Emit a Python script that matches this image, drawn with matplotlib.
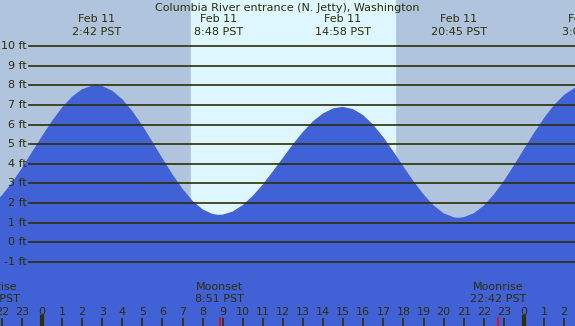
import matplotlib
matplotlib.use('Agg')
from matplotlib import pyplot as plt
from matplotlib import transforms

# Tide height readings (hours from midnight Feb 11, feet)
hours = [-3.5, -3, -2.5, -2, -1.5, -1, -0.5, 0, 0.5, 1, 1.5, 2, 2.5, 2.7,
         3, 3.5, 4, 4.5, 5, 5.5, 6, 6.5, 7, 7.5, 8, 8.5, 8.8,
         9, 9.5, 10, 10.5, 11, 11.5, 12, 12.5, 13, 13.5, 14, 14.5, 14.97,
         15.5, 16, 16.5, 17, 17.5, 18, 18.5, 19, 19.5, 20, 20.5, 20.75,
         21, 21.5, 22, 22.5, 23, 23.5, 24, 24.5, 25, 25.5, 26, 26.5, 27.1]
heights = [1.5, 1.6, 1.91, 2.39, 3.03, 3.78, 4.59, 5.4, 6.18, 6.87, 7.42, 7.8, 7.98, 8.0,
           7.96, 7.72, 7.29, 6.68, 5.94, 5.12, 4.27, 3.46, 2.72, 2.11, 1.68, 1.44, 1.4,
           1.41, 1.57, 1.9, 2.37, 2.95, 3.62, 4.31, 5.0, 5.63, 6.17, 6.57, 6.82, 6.9,
           6.78, 6.47, 5.98, 5.35, 4.62, 3.86, 3.11, 2.44, 1.88, 1.48, 1.28, 1.25,
           1.28, 1.48, 1.87, 2.44, 3.13, 3.92, 4.75, 5.57, 6.33, 7.0, 7.51, 7.85, 8.0]

# High / low tide labels
event_hours = [2.7, 8.8, 14.97, 20.75, 27.1]
event_days = ['Feb 11', 'Feb 11', 'Feb 11', 'Feb 11', 'Feb 12']
event_times = ['2:42 PST', '8:48 PST', '14:58 PST', '20:45 PST', '3:06 PST']

# Moon events
moon_hours = [-2.5, 8.85, 22.7]
moon_names = ['Moonrise', 'Moonset', 'Moonrise']
moon_times = ['21:30 PST', '8:51 PST', '22:42 PST']

sunrise, sunset = 7.42, 17.58
ft_levels = list(range(-1, 11))
hour_ticks = list(range(-2, 27))

W, H = 575, 326
night = '#b0c4de'
day = '#ddf6ff'
water = '#4161d7'
ink = '#2e2e06'

fig = plt.figure(figsize=(W / 100, H / 100), dpi=100)
ax = fig.add_axes([0, 0, 1, 1])
ax.set_xlim(-2.09, 26.54)
ax.set_ylim(-4.26, 12.34)
ax.axis('off')
fig.patch.set_facecolor(night)
ax.set_facecolor(night)

ax.axvspan(sunrise, sunset, color=day, zorder=0)
ax.fill_between(hours, -5, heights, color=water, lw=0, zorder=1)

# Horizontal foot lines and labels
ytr = transforms.blended_transform_factory(ax.transAxes, ax.transData)
for lv in ft_levels:
    ax.axhline(lv, xmin=29 / W, xmax=1, color=ink, lw=1.2, zorder=2)
    ax.text(27 / W, lv, f'{lv} ft', transform=ytr,
            ha='right', va='center', fontsize=8, color=ink)

tr = transforms.blended_transform_factory(ax.transData, ax.transAxes)


def yf(px):
    return 1 - px / H


ax.text(0.5, yf(8), 'Columbia River entrance (N. Jetty), Washington', transform=ax.transAxes,
        ha='center', va='center', fontsize=8, color=ink)

for h, d, t in zip(event_hours, event_days, event_times):
    ax.text(h, yf(19), d, transform=tr, ha='center', va='center', fontsize=8, color=ink)
    ax.text(h, yf(32), t, transform=tr, ha='center', va='center', fontsize=8, color=ink)

for h, n, t in zip(moon_hours, moon_names, moon_times):
    ax.text(h, yf(287), n, transform=tr, ha='center', va='center', fontsize=8, color=ink)
    ax.text(h, yf(299), t, transform=tr, ha='center', va='center', fontsize=8, color=ink)
    ax.plot([h, h], [0, yf(318)], transform=tr, color='red', lw=1.2, zorder=3)

# Hour ticks along the bottom
for h in hour_ticks:
    ax.text(h, yf(312), str(h % 24), transform=tr, ha='center', va='center', fontsize=8, color=ink)
    lw = 3 if h % 24 == 0 else 1.2
    top = yf(315) if h % 24 == 0 else yf(318)
    ax.plot([h, h], [0, top], transform=tr, color=ink, lw=lw, zorder=3, solid_capstyle='butt')

plt.savefig('out.png', dpi=100, facecolor=night)
